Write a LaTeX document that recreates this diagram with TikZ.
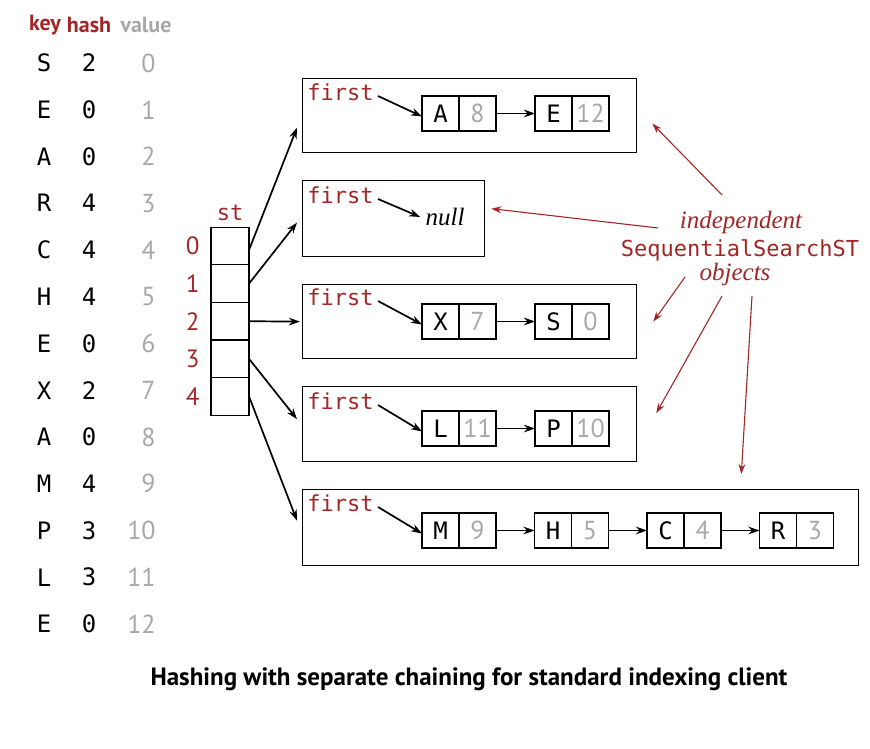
\documentclass[tikz,border=0pt]{standalone}
\usepackage{fontspec}
\setsansfont{PT Sans}
\setmonofont{DejaVu Sans Mono}
\newfontfamily\notefont{Liberation Serif}
\usetikzlibrary{arrows.meta, positioning, calc}
\definecolor{bookred}{RGB}{163,38,38}
\definecolor{valgray}{RGB}{168,168,168}
\tikzstyle{tab} = [inner sep=0pt, font=\ttfamily\fontsize{12}{14}\selectfont]
\tikzstyle{tabval} = [inner sep=0pt, anchor=east, text=valgray, font=\sffamily\fontsize{13}{15}\selectfont]
\tikzstyle{head} = [inner sep=0pt, font=\sffamily\bfseries\fontsize{11}{13}\selectfont]
\tikzstyle{idx} = [inner sep=0pt, text=bookred, font=\sffamily\fontsize{12.5}{14}\selectfont]
\tikzstyle{stcell} = [rectangle, draw, line width=0.65pt, outer sep=0pt, minimum width=19pt, minimum height=18.8pt]
\tikzstyle{list} = [rectangle, draw, line width=0.65pt, anchor=north west, inner sep=0pt]
\tikzstyle{firstlbl} = [inner sep=0pt, anchor=west, text=bookred, font=\ttfamily\fontsize{11}{13}\selectfont]
\tikzstyle{keycell} = [rectangle, draw, line width=0.65pt, outer sep=0pt, minimum width=18.5pt, minimum height=17.5pt, inner sep=0pt, font=\ttfamily\fontsize{12}{14}\selectfont]
\tikzstyle{valcell} = [keycell, text=valgray, font=\sffamily\fontsize{13}{15}\selectfont]
\tikzstyle{notetxt} = [text=bookred, inner sep=0pt, font=\notefont\itshape\fontsize{12.5}{15}\selectfont]
\tikzstyle{ptr} = [-{Stealth[length=5.5pt,width=3.8pt]}, line width=0.85pt]
\tikzstyle{note} = [-{Stealth[length=5pt,width=3.4pt]}, bookred, line width=0.55pt]

\begin{document}
\begin{tikzpicture}[x=0.5pt, y=-0.5pt]
  \useasboundingbox (0,0) rectangle (870,748);

  % key / hash / value table
  \node[head, text=bookred] (hkey) at (45,25) {key};
  \node[head, text=bookred] (hhash) at (89,25) {hash};
  \node[head, text=valgray] (hval) at (146,25) {value};
  \foreach \k/\h [count=\v from 0] in {S/2, E/0, A/0, R/4, C/4, H/4, E/0, X/2, A/0, M/4, P/3, L/3, E/0} {
    \node[tab] (key\v) at (44, 63+46.75*\v) {\k};
    \node[tab] (hash\v) at (89, 63+46.75*\v) {\h};
    \node[tabval] (val\v) at (156, 63+46.75*\v) {\v};
  }

  % the array st[]
  \node[idx, font=\ttfamily\fontsize{11}{13}\selectfont] (stlbl) at (230,213) {st};
  \node[stcell] (st0) at (230,246) {};
  \foreach \i [count=\j from 0] in {1,...,4} {
    \node[stcell, below=0pt of st\j] (st\i) {};
  }
  \foreach \i in {0,...,4} {
    \node[idx, left=5.5pt of st\i] (idx\i) {\i};
  }

  % the five lists
  \node[list, minimum width=167pt, minimum height=37pt] (box0) at (302,78) {};
  \node[list, minimum width=91pt, minimum height=38pt] (box1) at (302,180) {};
  \node[list, minimum width=167pt, minimum height=37pt] (box2) at (302,284) {};
  \node[list, minimum width=167pt, minimum height=37.5pt] (box3) at (302,386) {};
  \node[list, minimum width=278pt, minimum height=38pt] (box4) at (302,489) {};

  \node[firstlbl] (f0) at (307,92) {first};
  \node[firstlbl] (f1) at (307,195) {first};
  \node[firstlbl] (f2) at (307,297) {first};
  \node[firstlbl] (f3) at (307,401) {first};
  \node[firstlbl] (f4) at (307,503) {first};

  \foreach \k/\v [count=\j from 0] in {A/8, E/12} {
    \node[keycell] (c0k\j) at (440.5+113*\j, 113.5) {\k};
    \node[valcell, right=0pt of c0k\j] (c0v\j) {\v};
  }
  \node[notetxt, text=black, inner sep=2.5pt] (null1) at (445,217) {null};
  \foreach \k/\v [count=\j from 0] in {X/7, S/0} {
    \node[keycell] (c2k\j) at (440.5+113*\j, 321.5) {\k};
    \node[valcell, right=0pt of c2k\j] (c2v\j) {\v};
  }
  \foreach \k/\v [count=\j from 0] in {L/11, P/10} {
    \node[keycell] (c3k\j) at (440.5+113*\j, 428.5) {\k};
    \node[valcell, right=0pt of c3k\j] (c3v\j) {\v};
  }
  \foreach \k/\v [count=\j from 0] in {M/9, H/5, C/4, R/3} {
    \node[keycell] (c4k\j) at (440.5+112.5*\j, 530.5) {\k};
    \node[valcell, right=0pt of c4k\j] (c4v\j) {\v};
  }

  % links
  \draw[ptr] ([xshift=2pt,yshift=-2pt]f0.east) -- ([yshift=-1.5pt]c0k0.west);
  \draw[ptr] ([xshift=2pt,yshift=-2pt]f1.east) -- (null1.west);
  \draw[ptr] ([xshift=2pt,yshift=-2pt]f2.east) -- ([yshift=-1.5pt]c2k0.west);
  \draw[ptr] ([xshift=2pt,yshift=-2pt]f3.east) -- ([yshift=-1.5pt]c3k0.west);
  \draw[ptr] ([xshift=2pt,yshift=-2pt]f4.east) -- ([yshift=-1.5pt]c4k0.west);
  \draw[ptr] (c0v0.east) -- (c0k1.west);
  \draw[ptr] (c2v0.east) -- (c2k1.west);
  \draw[ptr] (c3v0.east) -- (c3k1.west);
  \foreach \a/\b in {0/1, 1/2, 2/3} {
    \draw[ptr] (c4v\a.east) -- (c4k\b.west);
  }

  % st[] to the lists
  \draw[ptr] ([yshift=-2pt]st0.east) -- ($(box0.west)+(-5,12)$);
  \draw[ptr] (st1.east) -- ($(box1.west)+(-5,4)$);
  \draw[ptr] (st2.east) -- ($(box2.west)+(-2,0)$);
  \draw[ptr] (st3.east) -- ($(box3.west)+(-5,-5)$);
  \draw[ptr] (st4.east) -- ($(box4.west)+(-5,-7)$);

  % annotation
  \node[notetxt] (ind) at (741,222) {independent};
  \node[text=bookred, font=\ttfamily\fontsize{11}{13}\selectfont, inner sep=0pt] (sss) at (740,250) {SequentialSearchST};
  \node[notetxt] (obj) at (735,274) {objects};
  \draw[note] ($(ind)+(-19,-27)$) -- ($(box0.east)+(15,8)$);
  \draw[note] ($(ind)+(-83,6)$) -- ($(box1.east)+(6,-10)$);
  \draw[note] ($(sss)+(-55,27)$) -- ($(box2.east)+(16,0)$);
  \draw[note] ($(obj)+(-13,22)$) -- ($(box3.east)+(19,-11)$);
  \draw[note] ($(obj)+(17,22)$) -- ($(box4.north east)+(-118,-15)$);

  % caption
  \node[font=\sffamily\bfseries\fontsize{12.5}{15}\selectfont, inner sep=0pt] (cap) at (469,679) {Hashing with separate chaining for standard indexing client};
\end{tikzpicture}
\end{document}
